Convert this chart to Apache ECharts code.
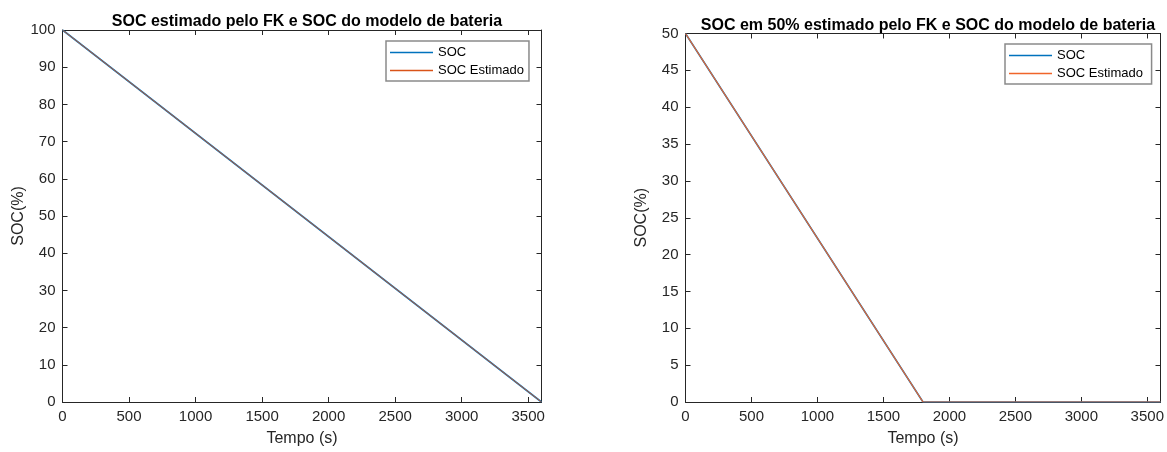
<!DOCTYPE html>
<html>
<head>
<meta charset="utf-8">
<script src="https://cdn.jsdelivr.net/npm/echarts@6/dist/echarts.min.js"></script>
<style>
html,body{margin:0;padding:0;background:#fff;}
#c{width:1167px;height:452px;}
</style>
</head>
<body>
<div id="c"></div>
<script>
// ---- data ----
const titles = ['SOC estimado pelo FK e SOC do modelo de bateria', 'SOC em 50% estimado pelo FK e SOC do modelo de bateria'];
const seriesNames = ['SOC', 'SOC Estimado'];
const xTitle = 'Tempo (s)';
const yTitle = 'SOC(%)';
// left panel: full charge
const timeA = [0, 900, 1800, 2700, 3600];
const socA = [100, 75, 50, 25, 0];
const socEstA = [100, 75, 50, 25, 0];
// right panel: starting at 50%
const timeB = [0, 900, 1800, 2700, 3600];
const socB = [50, 25, 0, 0, 0];
const socEstB = [50, 25, 0, 0, 0];
const xTicks = [0, 500, 1000, 1500, 2000, 2500, 3000, 3500];
const yTicksA = [0, 10, 20, 30, 40, 50, 60, 70, 80, 90, 100];
const yTicksB = [0, 5, 10, 15, 20, 25, 30, 35, 40, 45, 50];

const pair = (xs, ys) => xs.map((x, i) => [x, ys[i]]);
const FONT = 'Liberation Sans';
const TXT = '#262626';
const blue = '#0072BD';
const orangeA = '#D95319';
const orangeB = '#F0652A';

const grids = [
  {left: 62.5, top: 30, width: 479, height: 377},
  {left: 685.5, top: 33.5, width: 475, height: 373.5}
];

function xAxes(gi) {
  const base = {
    type: 'value', gridIndex: gi, min: 0, max: 3600, interval: 500,
    axisLine: {show: true, onZero: false, lineStyle: {color: TXT, width: 1}},
    axisTick: {show: true, inside: true, length: 5, lineStyle: {color: TXT}},
    splitLine: {show: false}
  };
  return [
    Object.assign({}, base, {
      position: 'bottom',
      name: xTitle, nameLocation: 'middle', nameGap: 29,
      nameTextStyle: {fontFamily: FONT, fontSize: 16, color: TXT},
      axisLabel: {fontFamily: FONT, fontSize: 15, color: TXT, margin: 7,
        formatter: v => xTicks.indexOf(v) >= 0 ? String(v) : ''}
    }),
    Object.assign({}, base, {position: 'top', axisLabel: {show: false}})
  ];
}
function yAxes(gi, ticks) {
  const iv = ticks[1] - ticks[0];
  const base = {
    type: 'value', gridIndex: gi, min: ticks[0], max: ticks[ticks.length - 1], interval: iv,
    axisLine: {show: true, onZero: false, lineStyle: {color: TXT, width: 1}},
    axisTick: {show: true, inside: true, length: 5, lineStyle: {color: TXT}},
    splitLine: {show: false}
  };
  return [
    Object.assign({}, base, {
      position: 'left',
      name: yTitle, nameLocation: 'middle', nameGap: 36,
      nameTextStyle: {fontFamily: FONT, fontSize: 16, color: TXT},
      axisLabel: {fontFamily: FONT, fontSize: 15, color: TXT, margin: 7}
    }),
    Object.assign({}, base, {position: 'right', axisLabel: {show: false}})
  ];
}

const xa = xAxes(0).concat(xAxes(1));
const ya = yAxes(0, yTicksA).concat(yAxes(1, yTicksB));

function line(name, data, color, xi, yi, w) {
  return {
    type: 'line', name: name, data: data, xAxisIndex: xi, yAxisIndex: yi,
    symbol: 'none', animation: false, silent: true,
    lineStyle: {color: color, width: w}, itemStyle: {color: color}
  };
}

const legendCommon = {
  orient: 'vertical', itemWidth: 43, itemHeight: 1.5, itemGap: 5,
  padding: [5, 5, 4, 4], borderColor: '#8a8a8a', borderWidth: 1.5, backgroundColor: '#fff',
  textStyle: {fontFamily: FONT, fontSize: 13, color: '#000'}, selectedMode: false, icon: 'rect'
};

const chart = echarts.init(document.getElementById('c'), null, {renderer: 'canvas'});
chart.setOption({
  animation: false,
  backgroundColor: '#fff',
  title: [
    {text: titles[0], left: 302, top: 9, textAlign: 'center',
     textStyle: {fontFamily: FONT, fontSize: 16, fontWeight: 'bold', color: '#000'}},
    {text: titles[1], left: 923, top: 12.5, textAlign: 'center',
     textStyle: {fontFamily: FONT, fontSize: 16, fontWeight: 'bold', color: '#000'}}
  ],
  legend: [
    Object.assign({}, legendCommon, {left: 386, top: 41, data: [{name: 'SOC', itemStyle: {color: blue}}, {name: 'SOC Estimado', itemStyle: {color: orangeA}}]}),
    Object.assign({}, legendCommon, {left: 1005, top: 44, data: [{name: 'SOC ', itemStyle: {color: blue}}, {name: 'SOC Estimado ', itemStyle: {color: orangeB}}]})
  ],
  grid: grids,
  xAxis: xa,
  yAxis: ya,
  series: [
    line(seriesNames[0], pair(timeA, socA), blue, 0, 0, 1.6),
    line(seriesNames[1], pair(timeA, socEstA), orangeA, 0, 0, 0.9),
    line(seriesNames[0] + ' ', pair(timeB, socB), blue, 2, 2, 1.6),
    line(seriesNames[1] + ' ', pair(timeB, socEstB), orangeB, 2, 2, 1.2)
  ]
});
</script>
</body>
</html>
